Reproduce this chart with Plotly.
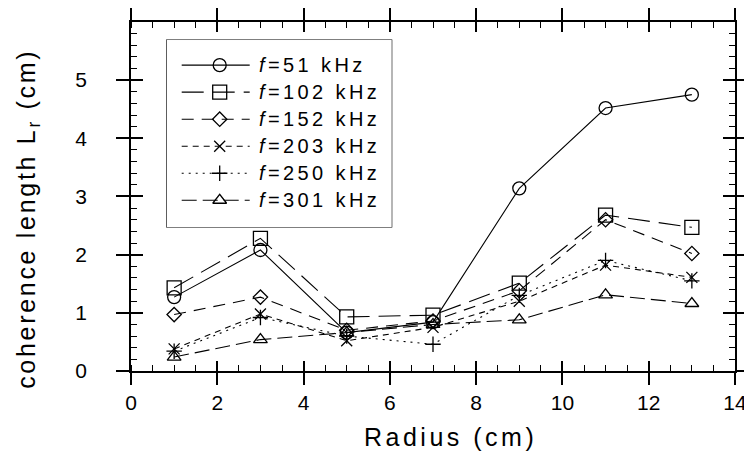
import plotly.graph_objects as go

# Radial positions of the probe (cm)
radius = [1, 3, 5, 7, 9, 11, 13]

# Coherence length L_r (cm) for each frequency
freq_labels = ["51", "102", "152", "203", "250", "301"]
lr_51 = [1.27, 2.08, 0.66, 0.84, 3.14, 4.52, 4.75]
lr_102 = [1.43, 2.28, 0.93, 0.96, 1.51, 2.68, 2.47]
lr_152 = [0.97, 1.27, 0.70, 0.86, 1.38, 2.60, 2.02]
lr_203 = [0.38, 0.98, 0.52, 0.75, 1.20, 1.82, 1.61]
lr_250 = [0.34, 0.92, 0.60, 0.46, 1.30, 1.90, 1.55]
lr_301 = [0.24, 0.54, 0.66, 0.80, 0.88, 1.31, 1.16]

# Axis scales
x_range = [0, 14]
x_step, x_minor = 2, 0.5
y_range = [0, 5.999]
y_step, y_minor = 1, 0.2

series = [lr_51, lr_102, lr_152, lr_203, lr_250, lr_301]
symbols = ["circle-open", "square-open", "diamond-open",
           "x-thin-open", "cross-thin-open", "triangle-up-open"]
sizes = [13, 14, 11, 11, 11, 12]
dashes = ["solid", "22px,9px", "12px,8px", "6px,5px", "2px,5px", "15px,6px"]

FONT = "Liberation Sans, Arial, Helvetica, sans-serif"
INK = "black"

fig = go.Figure()

for vals, sym, sz, dash, lab in zip(series, symbols, sizes, dashes, freq_labels):
    fig.add_trace(go.Scatter(
        x=radius, y=vals, mode="lines+markers", name=f"f={lab} kHz",
        line=dict(color=INK, width=1.1, dash=dash),
        marker=dict(symbol=sym, size=sz, color=INK, line=dict(color=INK, width=1.3)),
        showlegend=False, hoverinfo="skip",
    ))

# Key: one row per frequency, drawn on its own small axis pair
for i, (sym, sz, dash, lab) in enumerate(zip(symbols, sizes, dashes, freq_labels)):
    fig.add_trace(go.Scatter(
        x=[15, 83], y=[i, i], mode="lines", xaxis="x2", yaxis="y2",
        line=dict(color=INK, width=1.1, dash=dash),
        showlegend=False, hoverinfo="skip",
    ))
    fig.add_trace(go.Scatter(
        x=[53], y=[i], mode="markers", xaxis="x2", yaxis="y2",
        marker=dict(symbol=sym, size=sz, color=INK, line=dict(color=INK, width=1.3)),
        showlegend=False, hoverinfo="skip",
    ))
    fig.add_annotation(
        x=90, y=i, xref="x2", yref="y2", xanchor="left", yanchor="middle",
        text=f'<span style="letter-spacing:3.4px"><i>f</i>={lab} kHz</span>',
        showarrow=False, font=dict(family=FONT, size=20, color=INK),
    )

# Companion axes carrying the inward half of the major ticks
fig.add_trace(go.Scatter(x=[None], y=[None], xaxis="x3", yaxis="y3",
                         showlegend=False, hoverinfo="skip"))

minor_style = dict(ticks="inside", ticklen=6, tickwidth=1.3, tickcolor=INK, showgrid=False)

fig.update_layout(
    width=744, height=451,
    margin=dict(l=131, r=9, t=22, b=80),
    paper_bgcolor="white", plot_bgcolor="white",
    font=dict(family=FONT, color=INK),
    xaxis=dict(
        range=x_range, tickmode="linear", tick0=0, dtick=x_step,
        ticks="outside", ticklen=12, tickwidth=1.7, tickcolor=INK,
        showline=True, linecolor=INK, linewidth=1.5, mirror="allticks",
        showgrid=False, zeroline=False, automargin=False,
        tickfont=dict(family=FONT, size=21, color=INK),
        ticklabelstandoff=0, ticklabeloverflow="allow",
        minor=dict(tick0=0, dtick=x_minor, **minor_style),
    ),
    yaxis=dict(
        range=y_range, tickmode="linear", tick0=0, dtick=y_step,
        ticks="outside", ticklen=13, tickwidth=1.7, tickcolor=INK,
        showline=True, linecolor=INK, linewidth=1.5, mirror="allticks",
        showgrid=False, zeroline=False, automargin=False,
        tickfont=dict(family=FONT, size=21, color=INK), ticklabelstandoff=25,
        minor=dict(tick0=0, dtick=y_minor, **minor_style),
    ),
    xaxis3=dict(
        overlaying="x", anchor="y3", range=x_range, tickmode="linear", tick0=0, dtick=x_step,
        ticks="inside", ticklen=10, tickwidth=1.7, tickcolor=INK,
        mirror="allticks", showline=False, showticklabels=False,
        showgrid=False, zeroline=False, automargin=False,
    ),
    yaxis3=dict(
        overlaying="y", anchor="x3", range=y_range, tickmode="linear", tick0=0, dtick=y_step,
        ticks="inside", ticklen=12, tickwidth=1.7, tickcolor=INK,
        mirror="allticks", showline=False, showticklabels=False,
        showgrid=False, zeroline=False, automargin=False,
    ),
    xaxis2=dict(domain=[0.0591, 0.4316], range=[0, 225], anchor="y2",
                visible=False, fixedrange=True),
    yaxis2=dict(domain=[0.4126, 0.9484], range=[5.99, -0.93], anchor="x2",
                visible=False, fixedrange=True),
    shapes=[dict(type="rect", xref="paper", yref="paper",
                 x0=0.0591, x1=0.4316, y0=0.4126, y1=0.9484,
                 line=dict(color=INK, width=1.2), fillcolor="white", layer="below")],
)

# Axis titles
fig.add_annotation(
    x=0.5298, y=-0.188, xref="paper", yref="paper",
    xanchor="center", yanchor="middle", showarrow=False,
    text='<span style="letter-spacing:3.5px">Radius (cm)</span>',
    font=dict(family=FONT, size=25, color=INK),
)
fig.add_annotation(
    x=-0.1705, y=0.436, xref="paper", yref="paper",
    xanchor="center", yanchor="middle", showarrow=False, textangle=-90,
    text='<span style="letter-spacing:2.7px">coherence length L<sub>r</sub> (cm)</span>',
    font=dict(family=FONT, size=25, color=INK),
)

fig.write_html("out.html", config={"displayModeBar": False})
